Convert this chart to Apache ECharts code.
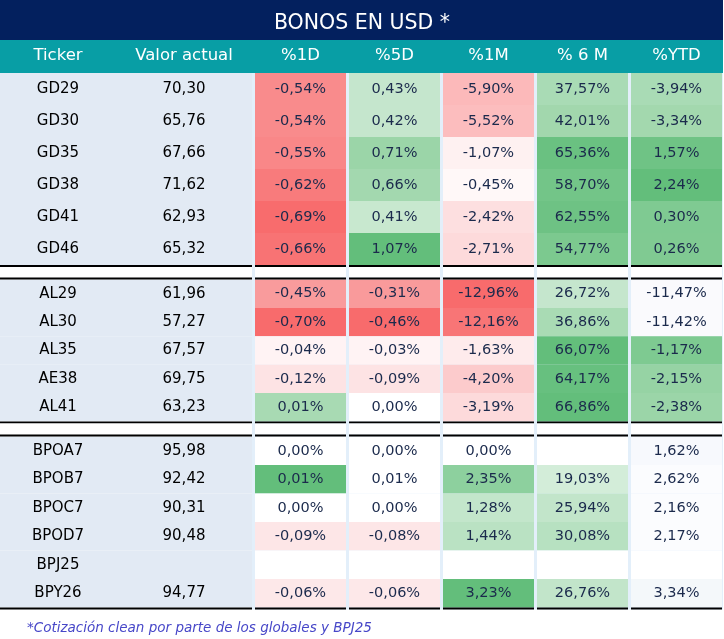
<!DOCTYPE html>
<html><head><meta charset="utf-8">
<script src="https://cdn.jsdelivr.net/npm/echarts@6/dist/echarts.min.js"></script>
<style>html,body{margin:0;padding:0;background:#fff}#c{width:724px;height:639px}</style>
</head><body><div id="c"></div><script>
// ---------- data ----------
const titleText = 'BONOS EN USD *';
const footnote = '*Cotización clean por parte de los globales y BPJ25';
const leftHeaders = ['Ticker', 'Valor actual'];
const changeHeaders = ['%1D', '%5D', '%1M', '% 6 M', '%YTD'];

const tickers1 = ['GD29', 'GD30', 'GD35', 'GD38', 'GD41', 'GD46'];
const price1 = [70.30, 65.76, 67.66, 71.62, 62.93, 65.32];
const d1_1 = [-0.54, -0.54, -0.55, -0.62, -0.69, -0.66];
const d5_1 = [0.43, 0.42, 0.71, 0.66, 0.41, 1.07];
const m1_1 = [-5.90, -5.52, -1.07, -0.45, -2.42, -2.71];
const m6_1 = [37.57, 42.01, 65.36, 58.70, 62.55, 54.77];
const ytd_1 = [-3.94, -3.34, 1.57, 2.24, 0.30, 0.26];

const tickers2 = ['AL29', 'AL30', 'AL35', 'AE38', 'AL41'];
const price2 = [61.96, 57.27, 67.57, 69.75, 63.23];
const d1_2 = [-0.45, -0.70, -0.04, -0.12, 0.01];
const d5_2 = [-0.31, -0.46, -0.03, -0.09, 0.00];
const m1_2 = [-12.96, -12.16, -1.63, -4.20, -3.19];
const m6_2 = [26.72, 36.86, 66.07, 64.17, 66.86];
const ytd_2 = [-11.47, -11.42, -1.17, -2.15, -2.38];

const tickers3 = ['BPOA7', 'BPOB7', 'BPOC7', 'BPOD7', 'BPJ25', 'BPY26'];
const price3 = [95.98, 92.42, 90.31, 90.48, null, 94.77];
const d1_3 = [0.00, 0.01, 0.00, -0.09, null, -0.06];
const d5_3 = [0.00, 0.01, 0.00, -0.08, null, -0.06];
const m1_3 = [0.00, 2.35, 1.28, 1.44, null, 3.23];
const m6_3 = [null, 19.03, 25.94, 30.08, null, 26.76];
const ytd_3 = [1.62, 2.62, 2.16, 2.17, null, 3.34];

// ---------- styles (cell fill colours, per column) ----------
const fill1 = [
  ['#F98B8C', '#F98B8C', '#F98788', '#F87B7C', '#F86C6D', '#F87374'],
  ['#C5E6CD', '#C5E6CD', '#9BD5A8', '#A3D8AF', '#C8E8CF', '#63BE7B'],
  ['#FCB9BA', '#FCBDBE', '#FEF1F1', '#FFF8F8', '#FDDFE0', '#FDDADB'],
  ['#A9DBB5', '#A2D7AD', '#6AC181', '#73C588', '#6EC284', '#7CC98F'],
  ['#A9DBB5', '#A3D8AE', '#6FC385', '#63BE7B', '#7FCA92', '#80CA92']
];
const fill2 = [
  ['#F99B9C', '#F86B6C', '#FFF3F4', '#FDE3E4', '#A8DAB3'],
  ['#F99A9B', '#F86B6C', '#FFF3F4', '#FDE3E4', '#FFFFFF'],
  ['#F86B6C', '#F87576', '#FEEBEC', '#FCCBCC', '#FDDADB'],
  ['#C5E6CD', '#A9DBB4', '#63BE7B', '#67C07F', '#63BE7B'],
  ['#FAFAFD', '#FAFAFD', '#7ECA91', '#96D3A4', '#9BD5A8']
];
const fill3 = [
  ['#FFFFFF', '#63BE7B', '#FFFFFF', '#FDE6E7', '#FFFFFF', '#FDE8E9'],
  ['#FFFFFF', '#FFFFFF', '#FFFFFF', '#FDE6E7', '#FFFFFF', '#FDE8E9'],
  ['#FFFFFF', '#8DD09E', '#C3E6CB', '#BAE2C3', '#FFFFFF', '#63BE7B'],
  ['#FFFFFF', '#D3EDD9', '#C2E5CA', '#B7E1C1', '#FFFFFF', '#C2E5CA'],
  ['#F7F9FD', '#FBFCFE', '#FBFCFE', '#FBFCFE', '#FFFFFF', '#F4F8FA']
];

const groups = [
  { tickers: tickers1, price: price1, cols: [d1_1, d5_1, m1_1, m6_1, ytd_1], fill: fill1, top: 73, height: 192, gapAbove: 0 },
  { tickers: tickers2, price: price2, cols: [d1_2, d5_2, m1_2, m6_2, ytd_2], fill: fill2, top: 279.5, height: 142, gapAbove: 10.5 },
  { tickers: tickers3, price: price3, cols: [d1_3, d5_3, m1_3, m6_3, ytd_3], fill: fill3, top: 436.5, height: 171, gapAbove: 11 }
];

const FONT = '"DejaVu Sans", Lato, sans-serif';
const fmt = v => v.toFixed(2).replace('.', ',');
const LEFT_BG = '#E2EAF4';
const SEP_BG = '#E3EFFA';

function decorations(children, g, r, n, x0, w, y0, h) {
  if (r === n - 1) children.push({ type: 'rect', shape: { x: x0, y: y0 + h, width: w, height: 2 }, style: { fill: '#000' } });
  if (r === 0 && g > 0) {
    const gap = groups[g].gapAbove;
    children.push({ type: 'rect', shape: { x: x0, y: y0 - 2 - gap, width: w, height: gap }, style: { fill: '#fff' } });
    children.push({ type: 'rect', shape: { x: x0, y: y0 - 2, width: w, height: 2 }, style: { fill: '#000' } });
  }
}

function leftRender(g) {
  return function (params, api) {
    const c = api.value(0), r = api.value(1);
    const p = api.coord([c, r]);
    const s = api.size([1, 1]);
    const x0 = p[0] - s[0] / 2, y0 = p[1] - s[1] / 2, w = s[0], h = s[1];
    const grp = groups[g];
    const n = grp.tickers.length;
    const children = [{ type: 'rect', shape: { x: x0, y: y0, width: w, height: h }, style: { fill: LEFT_BG } }];
    const txt = c === 0 ? grp.tickers[r] : (grp.price[r] == null ? '' : fmt(grp.price[r]));
    children.push({ type: 'text', style: { x: p[0] - 5, y: p[1], text: txt, align: 'center', verticalAlign: 'middle', font: '15px ' + FONT, fill: '#000' } });
    decorations(children, g, r, n, x0, w, y0, h);
    return { type: 'group', children };
  };
}

function heatRender(g) {
  return function (params, api) {
    const c = api.value(0), r = api.value(1);
    const p = api.coord([c, r]);
    const s = api.size([1, 1]);
    const x0 = p[0] - s[0] / 2 + 1.5, w = s[0] - 3, y0 = p[1] - s[1] / 2, h = s[1];
    const grp = groups[g];
    const n = grp.tickers.length;
    const v = grp.cols[c][r];
    const children = [{ type: 'rect', shape: { x: x0, y: y0, width: w, height: h }, style: { fill: grp.fill[c][r] } }];
    if (v != null) children.push({ type: 'text', style: { x: p[0], y: p[1], text: fmt(v) + '%', align: 'center', verticalAlign: 'middle', font: '14.5px ' + FONT, fill: '#1B2A4C' } });
    decorations(children, g, r, n, x0, w, y0, h);
    return { type: 'group', children };
  };
}

const grid = [], xAxis = [], yAxis = [], series = [];
groups.forEach((grp, g) => {
  grid.push({ left: 0, width: 252, top: grp.top, height: grp.height });
  grid.push({ left: 253.5, width: 470, top: grp.top, height: grp.height });
  const headerLabel = {
    show: g === 0, interval: 0, hideOverlap: false, color: '#fff', fontSize: 16.5, fontFamily: FONT, margin: 17, verticalAlign: 'middle'
  };
  xAxis.push({ type: 'category', gridIndex: 2 * g, data: leftHeaders, position: 'top', z: 10,
    axisLine: { show: false }, axisTick: { show: false }, splitLine: { show: false },
    axisLabel: Object.assign({}, headerLabel, { padding: [0, 10, 0, 0] }) });
  xAxis.push({ type: 'category', gridIndex: 2 * g + 1, data: changeHeaders, position: 'top', z: 10,
    axisLine: { show: false }, axisTick: { show: false }, splitLine: { show: false },
    axisLabel: headerLabel });
  yAxis.push({ type: 'category', gridIndex: 2 * g, data: grp.tickers, inverse: true, show: false });
  yAxis.push({ type: 'category', gridIndex: 2 * g + 1, data: grp.tickers, inverse: true, show: false });

  const leftData = [];
  grp.tickers.forEach((t, r) => { leftData.push([0, r]); leftData.push([1, r]); });
  series.push({ type: 'custom', xAxisIndex: 2 * g, yAxisIndex: 2 * g, renderItem: leftRender(g), data: leftData, encode: { x: 0, y: 1 }, silent: true });

  const heatData = [];
  grp.cols.forEach((col, c) => col.forEach((v, r) => heatData.push([c, r])));
  series.push({ type: 'custom', xAxisIndex: 2 * g + 1, yAxisIndex: 2 * g + 1, renderItem: heatRender(g), data: heatData, encode: { x: 0, y: 1 }, silent: true });
});

const chart = echarts.init(document.getElementById('c'), null, { renderer: 'canvas' });
chart.setOption({
  animation: false,
  backgroundColor: '#fff',
  title: [
    { text: titleText, left: 'center', top: 8, textStyle: { color: '#fff', fontSize: 20.5, fontWeight: 'normal', fontFamily: FONT } },
    { text: footnote, left: 22, top: 616, textStyle: { color: '#4747C8', fontSize: 13.5, fontStyle: 'italic', fontWeight: 'normal', fontFamily: FONT } }
  ],
  graphic: [
    { type: 'rect', z: -10, shape: { x: 0, y: 0, width: 723, height: 40 }, style: { fill: '#03205E' } },
    { type: 'rect', z: -10, shape: { x: 0, y: 40, width: 723, height: 33 }, style: { fill: '#089EA5' } },
    { type: 'rect', z: -10, shape: { x: 252, y: 73, width: 471, height: 536.5 }, style: { fill: SEP_BG } }
  ],
  grid, xAxis, yAxis, series
});
</script></body></html>
